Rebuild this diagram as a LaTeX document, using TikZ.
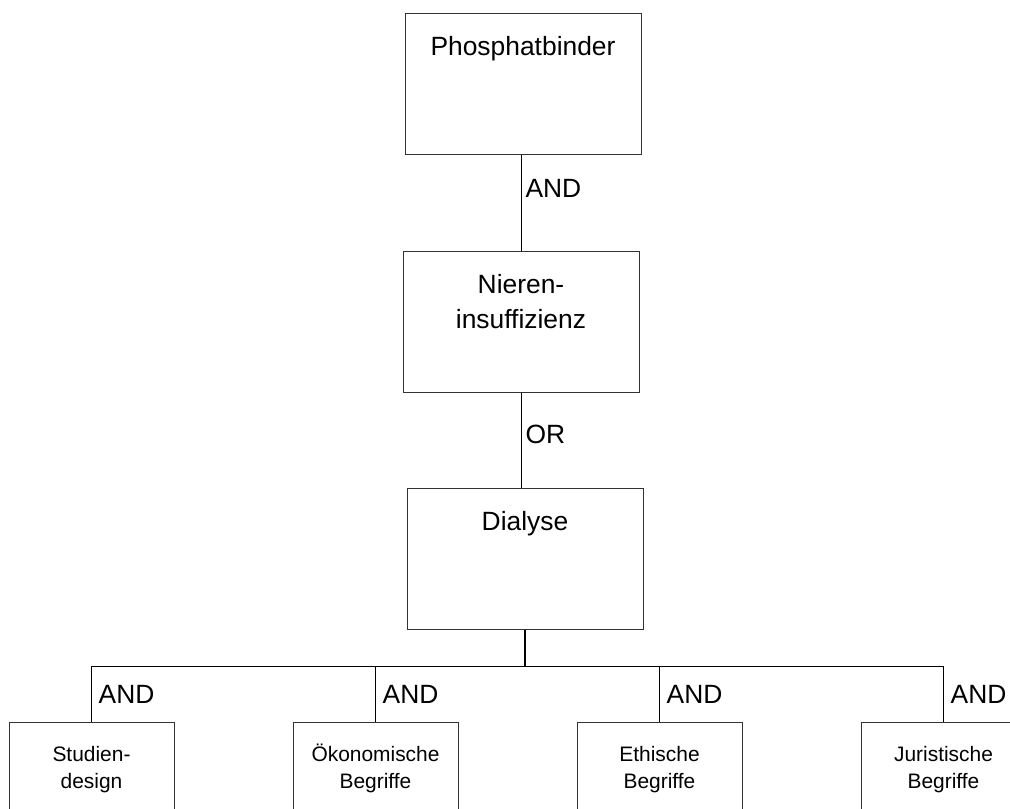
\documentclass[tikz,border=0pt]{standalone}
\usepackage{fontspec}
\setmainfont{Liberation Sans}
\usetikzlibrary{positioning}

\begin{document}
\begin{tikzpicture}[x=0.75pt,y=-0.75pt,
 bigbox/.style={draw=black!80,line width=0.75pt,anchor=north,inner sep=0pt,
 text width=177pt,align=center,text height=31.5pt,text depth=74.25pt,
 font=\fontsize{19.8pt}{26.25pt}\selectfont},
 smallbox/.style={draw=black!80,line width=0.75pt,anchor=north,inner sep=0pt,
 text width=123.75pt,align=center,text height=29pt,text depth=46pt,
 font=\fontsize{15.7pt}{20.25pt}\selectfont},
 conn/.style={anchor=west,inner sep=3pt,font=\fontsize{19.8pt}{24pt}\selectfont},
 link/.style={line width=0.75pt}]
\useasboundingbox (0,0) rectangle (1010,808);
\clip (0,0) rectangle (1010,808);
% search blocks
\node[bigbox] (phos) at (523,13) {Phosphatbinder};
\node[bigbox,below=72pt of phos,xshift=-1.5pt] (niere) {Nieren-\\insuffizienz};
\node[bigbox,below=71.25pt of niere,xshift=3pt] (dialyse) {Dialyse};
\coordinate[below=27pt of dialyse] (fork);
% aspects
\node[smallbox] (studie) at (91.5,722) {Studien-\\design};
\node[smallbox,right=88.5pt of studie] (oeko) {Ökonomische\\Begriffe};
\node[smallbox,right=88.5pt of oeko] (ethik) {Ethische\\Begriffe};
\node[smallbox,right=88.5pt of ethik] (jur) {Juristische\\Begriffe};
% operators
\draw[link] (phos.south -| niere.north) -- node[conn,pos=0.35] {AND} (niere.north);
\draw[link] (niere.south) -- node[conn,pos=0.44] {OR} (niere.south |- dialyse.north);
\draw[line width=1.2pt] (dialyse.south) -- (fork);
\draw[link] (fork -| studie.north) -- (fork -| jur.north);
\draw[link] (fork -| studie.north) -- node[conn,midway,xshift=2pt] {AND} (studie.north);
\draw[link] (fork -| oeko.north) -- node[conn,midway,xshift=2pt] {AND} (oeko.north);
\draw[link] (fork -| ethik.north) -- node[conn,midway,xshift=2pt] {AND} (ethik.north);
\draw[link] (fork -| jur.north) -- node[conn,midway,xshift=2pt] {AND} (jur.north);
\end{tikzpicture}
\end{document}
